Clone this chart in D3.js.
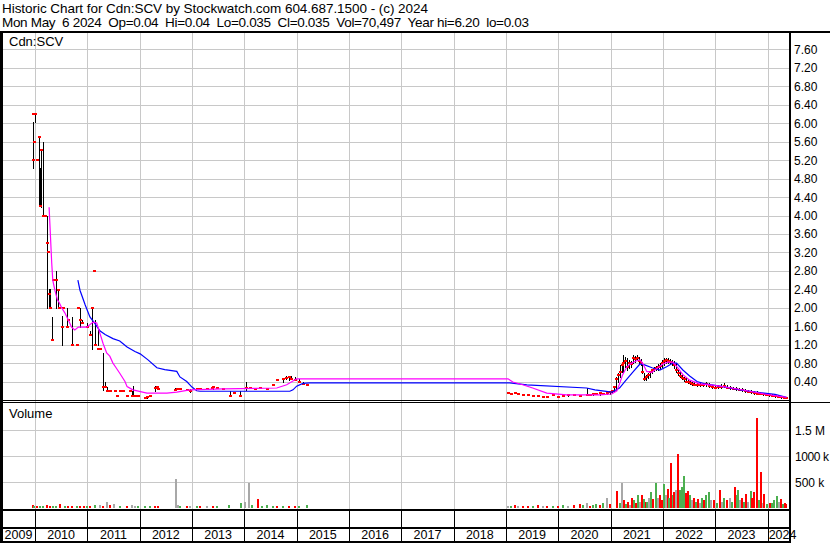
<!DOCTYPE html>
<html lang="en">
<head>
<meta charset="utf-8">
<title>Historic Chart for Cdn:SCV</title>
<script src="https://d3js.org/d3.v7.min.js"></script>
<style>
  body { margin: 0; background: #fff; }
  svg text { font-family: "Liberation Sans", Arial, sans-serif; fill: #000; }
  .hdr { font-size: 13.5px; white-space: pre; }
  .lbl { font-size: 13px; }
  .tick { font-size: 12px; }
  .yr { font-size: 12.5px; }
</style>
</head>
<body>
<svg width="830" height="543"></svg>
<script>
// header text
var titleLine = "Historic Chart for Cdn:SCV by Stockwatch.com 604.687.1500 - (c) 2024";
var quoteLine = "Mon May  6 2024  Op=0.04  Hi=0.04  Lo=0.035  Cl=0.035  Vol=70,497  Year hi=6.20  lo=0.03";

// tick labels
var priceTicks = [0.4, 0.8, 1.2, 1.6, 2.0, 2.4, 2.8, 3.2, 3.6, 4.0, 4.4, 4.8, 5.2, 5.6, 6.0, 6.4, 6.8, 7.2, 7.6];
var volTicks = [500000, 1000000, 1500000];
var volTickLabels = ["500 k", "1000 k", "1.5 M"];
var years = [2009, 2010, 2011, 2012, 2013, 2014, 2015, 2016, 2017, 2018, 2019, 2020, 2021, 2022, 2023, 2024];

// price bars: [decimal year, high, low, close]
var bars = [
  [2009.96,6.2,6.2,6.2],[2009.97,6.03,5.03,5.2],[2009.99,5.6,5.6,5.6],[2010.01,6.2,6.03,6.2],
  [2010.04,5.2,5.2,5.2],[2010.08,5.7,4.2,5.7],[2010.10,5.03,4.2,4.2],[2010.11,5.42,4.19,5.42],
  [2010.16,5.6,4.0,4.0],[2010.19,4.0,4.0,4.0],[2010.23,4.0,2.0,3.4],[2010.25,3.2,3.2,3.2],
  [2010.27,2.4,2.0,2.3],[2010.29,2.4,2.0,2.0],[2010.32,1.8,1.3,1.3],[2010.34,2.6,2.6,2.6],
  [2010.40,2.8,2.0,2.6],[2010.44,2.4,2.0,2.38],[2010.46,2.0,2.0,2.0],[2010.51,1.82,1.2,1.58],
  [2010.54,2.0,2.0,2.0],[2010.61,2.0,1.58,1.58],[2010.63,1.73,1.73,1.73],[2010.71,1.8,1.2,1.2],
  [2010.80,1.2,1.2,1.2],[2010.82,2.0,2.0,2.0],[2010.86,2.0,1.58,1.73],[2010.89,1.73,1.67,1.67],
  [2010.99,1.67,1.58,1.58],[2011.05,1.5,1.41,1.41],[2011.09,2.0,1.1,2.0],[2011.13,2.8,2.8,2.8],
  [2011.15,1.73,1.2,1.2],[2011.20,1.52,1.2,1.1],[2011.24,1.1,1.1,1.1],[2011.30,1.02,0.22,0.28],
  [2011.34,0.39,0.28,0.28],[2011.38,0.28,0.2,0.2],[2011.43,0.2,0.2,0.2],[2011.53,0.2,0.2,0.2],
  [2011.57,0.09,0.09,0.09],[2011.62,0.2,0.2,0.2],[2011.68,0.2,0.2,0.2],[2011.76,0.09,0.09,0.09],
  [2011.81,0.2,0.2,0.2],[2011.85,0.2,0.09,0.09],[2011.87,0.3,0.09,0.09],[2011.91,0.09,0.09,0.09],
  [2011.97,0.09,0.09,0.09],[2012.10,0.07,0.05,0.05],[2012.14,0.09,0.05,0.07],[2012.20,0.09,0.09,0.09],
  [2012.29,0.3,0.2,0.26],[2012.33,0.28,0.28,0.28],[2012.35,0.28,0.24,0.24],[2012.67,0.27,0.22,0.22],
  [2012.71,0.24,0.24,0.24],[2012.77,0.24,0.24,0.24],[2012.90,0.22,0.22,0.22],[2012.96,0.24,0.17,0.2],
  [2013.09,0.24,0.24,0.24],[2013.15,0.24,0.24,0.24],[2013.29,0.24,0.24,0.24],[2013.38,0.28,0.25,0.25],
  [2013.40,0.28,0.24,0.28],[2013.48,0.26,0.26,0.26],[2013.60,0.24,0.24,0.24],[2013.72,0.2,0.09,0.09],
  [2013.80,0.15,0.15,0.15],[2013.92,0.2,0.09,0.09],[2014.03,0.39,0.22,0.25],[2014.10,0.25,0.25,0.25],
  [2014.20,0.24,0.24,0.24],[2014.30,0.25,0.25,0.25],[2014.43,0.25,0.24,0.24],[2014.55,0.33,0.33,0.33],
  [2014.62,0.43,0.43,0.43],[2014.74,0.45,0.39,0.45],[2014.80,0.52,0.45,0.48],[2014.85,0.5,0.43,0.5],
  [2014.90,0.52,0.46,0.46],[2014.96,0.5,0.43,0.43],[2015.05,0.45,0.39,0.39],[2015.12,0.4,0.35,0.35],
  [2015.20,0.35,0.33,0.33],
  [2019.04,0.15,0.15,0.15],[2019.10,0.15,0.13,0.13],[2019.17,0.15,0.15,0.15],[2019.23,0.15,0.13,0.13],
  [2019.32,0.11,0.11,0.11],[2019.42,0.11,0.11,0.11],[2019.51,0.11,0.09,0.09],[2019.61,0.09,0.09,0.09],
  [2019.70,0.09,0.07,0.07],[2019.78,0.07,0.07,0.07],[2019.89,0.11,0.11,0.11],[2019.99,0.09,0.07,0.07],
  [2020.09,0.09,0.09,0.09],[2020.18,0.11,0.09,0.11],[2020.30,0.11,0.11,0.11],[2020.41,0.09,0.09,0.09],
  [2020.54,0.26,0.11,0.11],[2020.60,0.11,0.11,0.11],[2020.66,0.13,0.11,0.13],[2020.72,0.13,0.13,0.13],
  [2020.79,0.15,0.11,0.15],[2020.86,0.15,0.13,0.13],[2020.93,0.15,0.13,0.15],[2020.98,0.17,0.13,0.17],
  [2021.02,0.22,0.15,0.2],[2021.06,0.3,0.2,0.28],[2021.10,0.5,0.22,0.45],[2021.14,0.58,0.4,0.55],
  [2021.17,0.76,0.5,0.6],[2021.21,0.8,0.6,0.75],[2021.24,0.98,0.61,0.8],[2021.27,0.93,0.72,0.85],
  [2021.31,0.9,0.65,0.72],[2021.35,0.87,0.7,0.8],[2021.38,0.85,0.72,0.78],[2021.42,0.98,0.8,0.9],
  [2021.46,0.96,0.82,0.88],[2021.50,0.98,0.87,0.92],[2021.54,0.93,0.8,0.85],[2021.58,0.88,0.75,0.8],
  [2021.60,0.82,0.58,0.6],[2021.63,0.58,0.43,0.45],[2021.67,0.55,0.43,0.5],[2021.71,0.58,0.48,0.55],
  [2021.75,0.62,0.5,0.6],[2021.79,0.68,0.58,0.65],[2021.82,0.72,0.62,0.68],[2021.86,0.74,0.64,0.7],
  [2021.90,0.78,0.66,0.72],[2021.94,0.8,0.68,0.74],[2021.98,0.87,0.72,0.8],[2022.02,0.91,0.76,0.85],
  [2022.05,0.9,0.8,0.86],[2022.09,0.9,0.8,0.84],[2022.13,0.88,0.78,0.82],[2022.17,0.87,0.76,0.8],
  [2022.21,0.85,0.7,0.75],[2022.24,0.8,0.6,0.65],[2022.28,0.65,0.55,0.58],[2022.32,0.6,0.5,0.52],
  [2022.36,0.55,0.45,0.48],[2022.40,0.5,0.42,0.45],[2022.44,0.47,0.38,0.4],[2022.47,0.45,0.36,0.38],
  [2022.51,0.43,0.35,0.36],[2022.55,0.4,0.33,0.34],[2022.59,0.38,0.32,0.33],[2022.65,0.37,0.3,0.32],
  [2022.70,0.36,0.31,0.33],[2022.76,0.37,0.3,0.32],[2022.82,0.38,0.31,0.34],[2022.87,0.37,0.29,0.3],
  [2022.93,0.33,0.26,0.28],[2022.99,0.3,0.25,0.27],[2023.05,0.32,0.26,0.28],[2023.10,0.34,0.27,0.29],
  [2023.16,0.36,0.28,0.3],[2023.22,0.33,0.26,0.27],[2023.28,0.3,0.24,0.26],[2023.33,0.29,0.23,0.24],
  [2023.39,0.28,0.22,0.23],[2023.45,0.27,0.21,0.22],[2023.51,0.25,0.2,0.21],[2023.56,0.24,0.18,0.2],
  [2023.62,0.22,0.17,0.18],[2023.68,0.21,0.16,0.17],[2023.73,0.2,0.14,0.15],[2023.79,0.19,0.13,0.14],
  [2023.85,0.18,0.12,0.13],[2023.91,0.16,0.11,0.12],[2023.96,0.15,0.1,0.11],[2024.02,0.14,0.09,0.1],
  [2024.08,0.12,0.08,0.09],[2024.14,0.11,0.07,0.08],[2024.19,0.1,0.06,0.07],[2024.25,0.08,0.05,0.06],
  [2024.31,0.07,0.04,0.05],[2024.35,0.04,0.035,0.035]
];

// short moving average (magenta): [decimal year, value]
var maShort = [
  [2010.27,4.18],[2010.32,2.97],[2010.34,2.6],[2010.38,2.38],[2010.43,2.17],[2010.46,2.12],
  [2010.51,2.0],[2010.57,1.89],[2010.64,1.73],[2010.70,1.58],[2010.76,1.52],[2010.83,1.58],
  [2010.99,1.58],[2011.11,1.69],[2011.18,1.67],[2011.24,1.45],[2011.30,1.23],[2011.37,1.02],
  [2011.43,0.95],[2011.49,0.8],[2011.55,0.7],[2011.62,0.58],[2011.72,0.4],[2011.76,0.29],
  [2011.87,0.22],[2012.14,0.15],[2012.52,0.15],[2012.71,0.17],[2012.96,0.22],[2013.59,0.24],
  [2014.62,0.26],[2014.81,0.33],[2015.00,0.46],[2015.25,0.46],[2019.04,0.46],[2019.13,0.39],
  [2019.32,0.33],[2019.51,0.26],[2019.78,0.15],[2020.16,0.11],[2020.79,0.11],[2021.02,0.13],
  [2021.12,0.2],[2021.17,0.35],[2021.23,0.55],[2021.31,0.72],[2021.40,0.8],[2021.50,0.85],
  [2021.56,0.87],[2021.61,0.8],[2021.69,0.62],[2021.79,0.6],[2021.88,0.68],[2022.00,0.78],
  [2022.09,0.82],[2022.19,0.82],[2022.28,0.7],[2022.38,0.55],[2022.51,0.43],[2022.70,0.35],
  [2022.89,0.33],[2023.09,0.3],[2023.37,0.25],[2023.66,0.19],[2023.94,0.13],[2024.23,0.08],
  [2024.36,0.06]
];

// long moving average (blue): [decimal year, value]
var maLong = [
  [2010.82,2.6],[2010.86,2.38],[2010.96,2.06],[2011.05,1.8],[2011.15,1.65],[2011.24,1.5],
  [2011.34,1.42],[2011.49,1.33],[2011.62,1.28],[2011.76,1.15],[2011.91,1.05],[2012.01,1.0],
  [2012.16,0.87],[2012.33,0.7],[2012.48,0.66],[2012.71,0.62],[2012.77,0.5],[2012.90,0.4],
  [2013.00,0.28],[2013.09,0.2],[2013.15,0.19],[2014.87,0.19],[2014.93,0.22],[2015.00,0.3],
  [2015.12,0.36],[2015.25,0.37],[2019.07,0.37],[2019.40,0.33],[2020.54,0.26],[2020.70,0.22],
  [2021.02,0.17],[2021.17,0.26],[2021.27,0.4],[2021.42,0.6],[2021.56,0.78],[2021.65,0.76],
  [2021.79,0.7],[2021.94,0.65],[2022.07,0.72],[2022.19,0.8],[2022.26,0.8],[2022.38,0.65],
  [2022.51,0.52],[2022.65,0.4],[2022.80,0.35],[2023.09,0.3],[2023.47,0.22],[2023.85,0.16],
  [2024.14,0.12],[2024.36,0.06]
];

// volume: [decimal year, shares (thousands), r = down / g = up / n = unchanged]
var volume = [
  [2009.96,50,"r"],[2009.99,40,"g"],[2010.04,35,"r"],[2010.10,45,"g"],[2010.16,40,"g"],[2010.23,50,"r"],
  [2010.29,40,"r"],[2010.34,35,"g"],[2010.40,45,"g"],[2010.48,80,"r"],[2010.57,40,"g"],[2010.63,35,"r"],
  [2010.71,45,"r"],[2010.80,35,"g"],[2010.86,40,"r"],[2010.93,35,"r"],[2010.99,40,"g"],[2011.05,45,"r"],
  [2011.15,50,"g"],[2011.24,60,"n"],[2011.30,45,"r"],[2011.38,110,"n"],[2011.43,50,"r"],[2011.51,70,"n"],
  [2011.62,30,"g"],[2011.76,35,"r"],[2011.85,60,"n"],[2011.91,35,"n"],[2011.97,35,"g"],[2012.10,40,"g"],
  [2012.20,35,"g"],[2012.29,40,"r"],[2012.35,35,"r"],[2012.69,560,"n"],[2012.73,60,"n"],[2012.77,40,"g"],
  [2012.90,45,"r"],[2012.96,35,"n"],[2013.09,40,"g"],[2013.15,35,"r"],[2013.29,40,"n"],[2013.40,35,"r"],
  [2013.48,45,"g"],[2013.71,50,"g"],[2013.93,90,"g"],[2014.01,120,"n"],[2014.09,480,"n"],[2014.14,60,"g"],
  [2014.26,170,"r"],[2014.34,45,"g"],[2014.43,60,"g"],[2014.55,45,"g"],[2014.62,40,"r"],[2014.74,45,"g"],
  [2014.85,40,"r"],[2014.96,35,"r"],[2015.05,40,"g"],[2015.20,60,"g"],
  [2019.04,45,"n"],[2019.10,35,"g"],[2019.17,55,"r"],[2019.23,35,"n"],[2019.32,45,"r"],[2019.42,40,"r"],
  [2019.51,35,"g"],[2019.61,50,"r"],[2019.70,35,"n"],[2019.78,40,"r"],[2019.89,45,"g"],[2019.99,35,"r"],
  [2020.09,50,"g"],[2020.18,45,"n"],[2020.30,55,"r"],[2020.41,75,"r"],[2020.48,55,"g"],[2020.54,95,"n"],
  [2020.60,45,"r"],[2020.66,55,"g"],[2020.72,75,"g"],[2020.79,65,"r"],[2020.86,95,"g"],[2020.93,200,"n"],
  [2020.98,75,"r"],
  [2021.12,330,"r"],[2021.17,100,"g"],[2021.21,480,"n"],[2021.25,150,"r"],[2021.29,80,"g"],[2021.33,120,"r"],
  [2021.37,60,"n"],[2021.40,200,"r"],[2021.44,150,"g"],[2021.48,100,"r"],[2021.52,250,"g"],[2021.56,120,"n"],
  [2021.60,250,"r"],[2021.63,180,"g"],[2021.67,120,"r"],[2021.69,110,"g"],[2021.73,200,"n"],[2021.77,300,"g"],
  [2021.81,180,"r"],[2021.86,480,"g"],[2021.90,200,"n"],[2021.94,250,"r"],[2021.98,150,"r"],[2022.02,470,"g"],
  [2022.05,250,"n"],[2022.09,370,"r"],[2022.12,200,"g"],[2022.15,865,"r"],[2022.19,250,"g"],[2022.22,300,"r"],
  [2022.25,350,"n"],[2022.28,1040,"r"],[2022.32,350,"g"],[2022.36,400,"g"],[2022.40,615,"g"],[2022.44,280,"r"],
  [2022.47,330,"r"],[2022.51,250,"g"],[2022.55,150,"n"],[2022.59,200,"r"],[2022.63,120,"g"],[2022.67,180,"r"],
  [2022.70,100,"n"],[2022.74,200,"g"],[2022.78,150,"r"],[2022.82,250,"g"],[2022.87,300,"g"],[2022.91,150,"n"],
  [2022.97,150,"r"],[2023.03,100,"g"],[2023.09,350,"r"],[2023.12,120,"n"],[2023.16,200,"g"],[2023.22,150,"r"],
  [2023.28,200,"n"],[2023.31,120,"g"],[2023.37,400,"r"],[2023.41,250,"g"],[2023.44,340,"g"],[2023.47,150,"n"],
  [2023.51,200,"r"],[2023.54,120,"g"],[2023.58,260,"r"],[2023.62,120,"n"],[2023.68,320,"g"],[2023.71,200,"r"],
  [2023.74,300,"r"],[2023.79,1730,"r"],[2023.83,160,"g"],[2023.87,690,"r"],[2023.91,100,"n"],[2023.94,270,"r"],
  [2023.98,80,"g"],[2024.04,100,"r"],[2024.08,100,"g"],[2024.12,150,"g"],[2024.17,230,"g"],[2024.21,120,"n"],
  [2024.25,180,"r"],[2024.29,80,"g"],[2024.33,100,"r"],[2024.35,70,"r"]
];
var volColor = { r: "#ff0000", g: "#4caf50", n: "#a8a8a8" };

var svg = d3.select("svg");
var W = 830, right = 789;
var grid = "#c8c8c8";

svg.append("rect").attr("width", W).attr("height", 543).attr("fill", "#fff");

// header
svg.append("text").attr("class", "hdr").attr("x", 2).attr("y", 13)
  .attr("textLength", 426).attr("lengthAdjust", "spacing").text(titleLine);
svg.append("text").attr("class", "hdr").attr("x", 2).attr("y", 27)
  .attr("textLength", 527).attr("lengthAdjust", "spacing").text(quoteLine);

var x = d3.scaleLinear().domain([2009.37, 2024.37]).range([2, 787]);
var y = d3.scaleLinear().domain([0, 8]).range([400, 31]);
var yv = d3.scaleLinear().domain([0, 2000000]).range([508, 404]);

function px(v) { return Math.round(v) + 0.5; }

// gridlines
var gl = svg.append("g").attr("stroke", grid).attr("shape-rendering", "crispEdges");
gl.selectAll(".hp").data(priceTicks).enter().append("line")
  .attr("x1", 2).attr("x2", right).attr("y1", function(d){ return px(y(d)); }).attr("y2", function(d){ return px(y(d)); });
gl.selectAll(".hv").data(volTicks).enter().append("line")
  .attr("x1", 2).attr("x2", right).attr("y1", function(d){ return px(yv(d)); }).attr("y2", function(d){ return px(yv(d)); });
gl.selectAll(".vp").data(years.slice(1)).enter().append("line")
  .attr("x1", function(d){ return px(x(d)); }).attr("x2", function(d){ return px(x(d)); })
  .attr("y1", 32).attr("y2", 509);

// price bars: black high-low line, red mark at the close
var pb = svg.append("g").attr("shape-rendering", "crispEdges");
pb.selectAll("line").data(bars.filter(function(d){ return d[1] > d[2]; })).enter().append("line")
  .attr("x1", function(d){ return px(x(d[0])); }).attr("x2", function(d){ return px(x(d[0])); })
  .attr("y1", function(d){ return y(d[1]); }).attr("y2", function(d){ return y(d[2]) + 1; })
  .attr("stroke", "#000").attr("stroke-width", 1.5);
pb.selectAll("rect").data(bars).enter().append("rect")
  .attr("x", function(d){ return Math.round(x(d[0])) - 1; })
  .attr("y", function(d){ return Math.round(y(d[3])) - 1; })
  .attr("width", 3).attr("height", 2).attr("fill", "#ff0000");

// moving averages
var line = d3.line().x(function(d){ return x(d[0]); }).y(function(d){ return y(d[1]); });
svg.append("path").datum(maLong).attr("d", line).attr("fill", "none").attr("stroke", "#0000ff").attr("stroke-width", 1.2);
svg.append("path").datum(maShort).attr("d", line).attr("fill", "none").attr("stroke", "#ff00ff").attr("stroke-width", 1.2);

// volume bars
svg.append("g").attr("shape-rendering", "crispEdges")
  .selectAll("rect").data(volume).enter().append("rect")
  .attr("x", function(d){ return Math.round(x(d[0])) - 1; })
  .attr("y", function(d){ return yv(d[1] * 1000); })
  .attr("width", function(d){ return d[0] > 2021 ? 2 : 1.5; })
  .attr("height", function(d){ return 508 - yv(d[1] * 1000); })
  .attr("fill", function(d){ return volColor[d[2]]; });

// frame
var fr = svg.append("g").attr("stroke", "#000").attr("shape-rendering", "crispEdges");
fr.append("line").attr("x1", 0).attr("x2", W).attr("y1", 31.5).attr("y2", 31.5).attr("stroke-width", 2);
fr.append("line").attr("x1", 1).attr("x2", 1).attr("y1", 31).attr("y2", 543).attr("stroke-width", 3);
fr.append("line").attr("x1", right + 0.5).attr("x2", right + 0.5).attr("y1", 31).attr("y2", 543).attr("stroke-width", 2);
fr.append("line").attr("x1", 0).attr("x2", right).attr("y1", 400.5).attr("y2", 400.5);
fr.append("line").attr("x1", 0).attr("x2", W).attr("y1", 402.5).attr("y2", 402.5);
fr.append("line").attr("x1", 0).attr("x2", right).attr("y1", 509.5).attr("y2", 509.5).attr("stroke-width", 2);
fr.append("line").attr("x1", 0).attr("x2", right).attr("y1", 527.5).attr("y2", 527.5).attr("stroke-width", 2);
fr.append("line").attr("x1", 0).attr("x2", right).attr("y1", 541.5).attr("y2", 541.5).attr("stroke-width", 2);
fr.selectAll(".yt").data(years.slice(1)).enter().append("line")
  .attr("x1", function(d){ return px(x(d)); }).attr("x2", function(d){ return px(x(d)); })
  .attr("y1", 510).attr("y2", 541);

// panel labels
svg.append("text").attr("class", "lbl").attr("x", 9).attr("y", 46).text("Cdn:SCV");
svg.append("text").attr("class", "lbl").attr("x", 9).attr("y", 418).text("Volume");

// right axis labels
svg.append("g").selectAll("text").data(priceTicks).enter().append("text")
  .attr("class", "tick").attr("x", 794).attr("y", function(d){ return y(d) + 4.5; })
  .text(function(d){ return d3.format(".2f")(d); });
svg.append("g").selectAll("text").data(volTicks).enter().append("text")
  .attr("class", "tick").attr("x", 795).attr("y", function(d){ return yv(d) + 4.5; })
  .attr("textLength", function(d, i){ return volTickLabels[i] === "1000 k" ? 34 : null; })
  .text(function(d, i){ return volTickLabels[i]; });

// year labels
svg.append("g").selectAll("text").data(years).enter().append("text")
  .attr("class", "yr")
  .attr("x", function(d){ return d === 2024 ? x(2024) + 1 : (Math.max(x(d), 2) + x(d + 1)) / 2; })
  .attr("text-anchor", function(d){ return d === 2024 ? "start" : "middle"; })
  .attr("y", 539)
  .text(function(d){ return d; });
</script>
</body>
</html>
